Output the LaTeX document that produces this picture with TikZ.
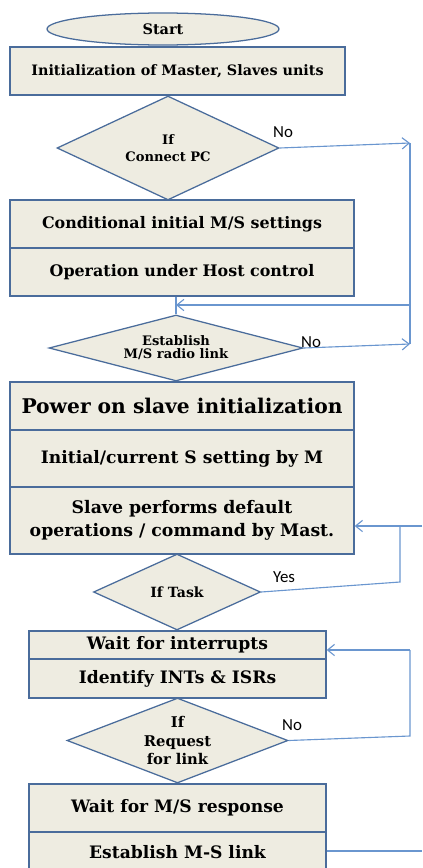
\documentclass[tikz,border=0pt]{standalone}
\usepackage{fontspec}
\setmainfont{DejaVu Serif}
\newfontfamily\lblfont{Carlito}
\usetikzlibrary{shapes.geometric,arrows.meta}

\definecolor{boxfill}{HTML}{EEECE1}
\definecolor{boxline}{HTML}{4A6C9B}
\definecolor{flowline}{HTML}{6A96CF}
\newcommand{\px}{0.025cm}
\newcommand{\fsz}[2]{\bfseries\fontsize{#1}{#2}\selectfont}

\tikzset{
  proc/.style={rectangle, draw=boxline, fill=boxfill, line width=0.9pt, inner sep=0pt,
    align=center, font=\fsz{12.2}{15}},
  decision/.style={diamond, draw=boxline, fill=boxfill, line width=0.9pt, inner sep=0pt,
    align=center, font=\fsz{9.3}{12}},
  flow/.style={draw=flowline, line width=0.8pt},
  tip/.style={-{Straight Barb[length=5pt,width=8pt]}},
  lbl/.style={font=\lblfont\fontsize{12}{14}\selectfont, inner sep=0pt}
}

\begin{document}
\begin{tikzpicture}[x=\px,y=-\px]
  \useasboundingbox (0,0) rectangle (422,868);
  \clip (0,0) rectangle (422,868);

  % boxes
  \node[ellipse, draw=boxline, fill=boxfill, line width=0.9pt, inner sep=0pt,
        minimum width=232*\px, minimum height=32*\px, font=\fsz{10.3}{12}]
        (start) at (163,29) {Start};
  \node[proc, minimum width=335*\px, minimum height=48*\px, font=\fsz{10.2}{12}] (init) at (177.5,71)
        {Initialization of Master, Slaves units};
  \node[decision, minimum width=222*\px, minimum height=104*\px, aspect=2.13] (ifpc) at (168,148)
        {If\\ Connect PC};
  \node[proc, minimum width=344*\px, minimum height=48*\px, font=\fsz{11.3}{13}] (cond) at (182,224)
        {Conditional initial M/S settings};
  \node[proc, minimum width=344*\px, minimum height=48*\px, font=\fsz{11.3}{13}] (host) at (182,272)
        {Operation under Host control};
  \node[decision, minimum width=254*\px, minimum height=66*\px, aspect=3.85, font=\fsz{9.3}{9.4}]
        (iflink) at (176,348) {Establish\\ M/S radio link};

  \node[proc, minimum width=344*\px, minimum height=48*\px, font=\fsz{14.4}{16}]
        (power) at (182,406) {Power on slave initialization};
  \node[proc, minimum width=344*\px, minimum height=57*\px] (sset) at (182,458.5)
        {Initial/current S setting by M};
  \node[proc, minimum width=344*\px, minimum height=67*\px, font=\fsz{12.3}{16.4}]
        (slave) at (182,520.5) {Slave performs default\\ operations / command by Mast.};
  \node[decision, minimum width=167*\px, minimum height=76*\px, aspect=2.2, font=\fsz{10}{12}]
        (iftask) at (177,592) {If Task};

  \node[proc, minimum width=297*\px, minimum height=28*\px] (wait) at (177.5,645)
        {Wait for interrupts};
  \node[proc, minimum width=297*\px, minimum height=39*\px] (ident) at (177.5,678.5)
        {Identify INTs \& ISRs};
  \node[decision, minimum width=221*\px, minimum height=85*\px, aspect=2.6, font=\fsz{10.5}{13.5}]
        (ifreq) at (177.5,740.5) {If\\ Request\\ for link};
  \node[proc, minimum width=297*\px, minimum height=48*\px] (resp) at (177.5,808)
        {Wait for M/S response};
  \node[proc, minimum width=297*\px, minimum height=40*\px] (estab) at (177.5,852)
        {Establish M-S link};

  % loop points
  \coordinate (pcR) at (410,143);
  \coordinate (pcB) at (410,305);
  \coordinate (lkR) at (410,344);
  \coordinate (tkR) at (400,582);
  \coordinate (tkT) at (400,526);
  \coordinate (tkE) at (422,526);
  \coordinate (rqR) at (410,736);
  \coordinate (rqT) at (410,650);
  \coordinate (esE) at (422,851);

  % connectors
  \draw[flow, tip] (ifpc.east) -- (pcR);
  \draw[flow] (pcR) -- (lkR);
  \draw[flow, tip] (pcB) -- (pcB -| iflink.north);
  \draw[flow] (iflink.north |- host.south) -- (iflink.north);
  \draw[flow, tip] (iflink.east) -- (lkR);

  \draw[flow] (iftask.east) -- (tkR) -- (tkT);
  \draw[flow, tip] (tkE) -- (tkE -| slave.east);

  \draw[flow] (ifreq.east) -- (rqR) -- (rqT);
  \draw[flow, tip] (rqT) -- (rqT -| wait.east);

  \draw[flow] (esE -| estab.east) -- (esE);

  % labels
  \node[lbl] (no1) at (283,132) {No};
  \node[lbl] (no2) at (311,342) {No};
  \node[lbl] (yes) at (284,577) {Yes};
  \node[lbl] (no3) at (292,725) {No};
\end{tikzpicture}
\end{document}
